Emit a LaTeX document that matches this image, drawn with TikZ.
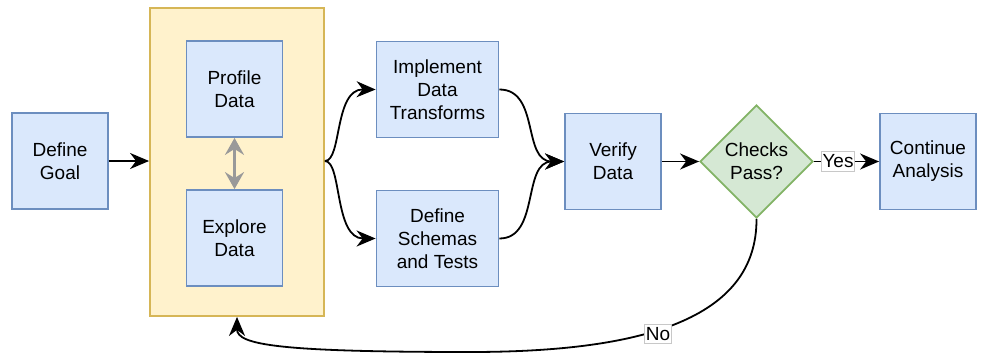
\documentclass[tikz,border=0pt]{standalone}
\usepackage{fontspec}
\setmainfont{Liberation Sans}
\usetikzlibrary{shapes.geometric,arrows.meta}
\definecolor{boxfill}{HTML}{DAE8FC}
\definecolor{boxline}{HTML}{6C8EBF}
\definecolor{grpfill}{HTML}{FFF2CC}
\definecolor{grpline}{HTML}{D6B656}
\definecolor{decfill}{HTML}{D5E8D4}
\definecolor{decline}{HTML}{82B366}
\definecolor{dbl}{HTML}{999999}
\definecolor{lblline}{HTML}{C8C8C8}
\begin{document}
\begin{tikzpicture}[x=1pt,y=-1pt,
  font=\fontsize{19}{23}\selectfont,
  stepbox/.style={draw=boxline,fill=boxfill,line width=1.8pt,minimum width=96pt,minimum height=96pt,inner sep=0pt,align=center},
  widebox/.style={stepbox,minimum width=122pt},
  grp/.style={draw=grpline,fill=grpfill,line width=1.8pt,minimum width=174pt,minimum height=308pt,inner sep=0pt},
  dec/.style={diamond,aspect=1,draw=decline,fill=decfill,line width=1.8pt,minimum width=113pt,minimum height=113pt,inner sep=0pt,align=center},
  conn/.style={line width=1.8pt,-{Stealth[length=19pt,width=16pt,inset=6pt]}},
  lbl/.style={draw=lblline,fill=white,line width=1pt,inner xsep=1pt,inner ysep=3pt,outer sep=0pt}
]
\path[use as bounding box] (0,0) rectangle (984,356);

\node[grp] (grp) at (237,162) {};
\node[stepbox] (goal) at (60,161) {Define\\Goal};
\node[stepbox] (prof) at (234.5,89) {Profile\\Data};
\node[stepbox] (expl) at (234.5,238) {Explore\\Data};
\node[widebox] (impl) at (437.5,89.5) {Implement\\Data\\Transforms};
\node[widebox] (sch) at (437.5,238.5) {Define\\Schemas\\and Tests};
\node[stepbox] (ver) at (613,161.5) {Verify\\Data};
\node[dec] (chk) at (756.5,161.5) {Checks\\Pass?};
\node[stepbox] (cont) at (928,161.5) {Continue\\Analysis};

\draw[conn] (goal.east) -- (grp.west |- goal.east);
\draw[line width=3pt,dbl,{Stealth[length=17pt,width=19pt,inset=6pt]}-{Stealth[length=17pt,width=19pt,inset=6pt]}] (prof.south) -- (expl.north);

\coordinate (gr) at (grp.east |- goal.east);
\draw[conn] (gr) .. controls (342,161) and (334,89) .. (impl.west);
\draw[conn] (gr) .. controls (342,161) and (334,238.5) .. (sch.west);
\draw[conn] (impl.east) .. controls (540,89.5) and (522,161.5) .. (ver.west);
\draw[conn] (sch.east) .. controls (540,238.5) and (522,161.5) .. (ver.west);
\draw[conn] (ver.east) -- (chk.west);
\draw[conn] (chk.east) -- node[lbl,pos=0.37] (yes) {Yes} (cont.west);

\coordinate (lo) at (470,352);
\draw[line width=1.8pt] (chk.south) .. controls (757,320) and (640,352) .. (lo);
\draw[conn] (lo) .. controls (280,352) and (237,345) .. (grp.south);
\node[lbl] (no) at (658,334) {No};
\end{tikzpicture}
\end{document}
